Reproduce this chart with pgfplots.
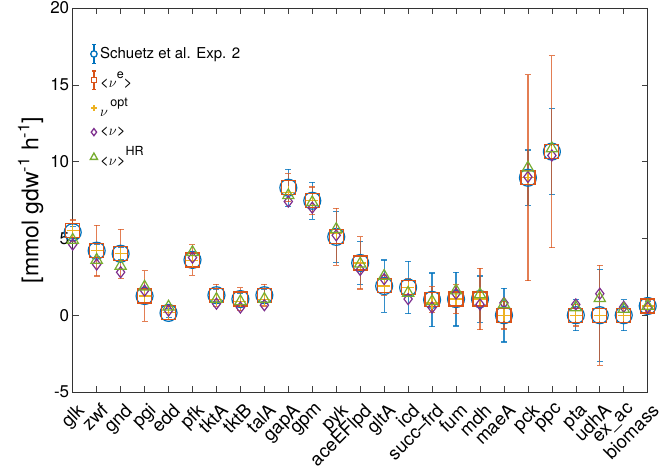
\documentclass[border=0pt]{standalone}
\usepackage{fontspec}
\setmainfont{TeX Gyre Heros}
\usepackage{pgfplots}
\pgfplotsset{compat=1.18}
\usepackage{pgfplotstable}

\definecolor{mblue}{rgb}{0,0.447,0.741}
\definecolor{morange}{rgb}{0.85,0.325,0.098}
\definecolor{myellow}{rgb}{0.929,0.694,0.125}
\definecolor{mpurple}{rgb}{0.494,0.184,0.556}
\definecolor{mgreen}{rgb}{0.466,0.674,0.188}

\newcommand{\msup}[1]{\raisebox{0.62em}{\fontsize{12.5bp}{12.5bp}\selectfont #1}}

\pgfplotstableread{
x exp experr e eerr opt mean hr
1 5.4 0.4 5.5 0.7 5.5 4.6 4.9
2 4.2 0.4 4.2 1.65 4.2 3.3 3.6
3 4.0 0.4 4.0 1.6 4.0 2.8 3.2
4 1.25 0.5 1.25 1.65 1.25 1.6 1.85
5 0.15 0.3 0.15 0.45 0.15 0.3 0.55
6 3.6 0.5 3.6 1.0 3.55 3.75 4.1
7 1.3 0.4 1.3 0.72 1.0 0.75 1.05
8 1.05 0.4 1.05 0.75 0.9 0.5 0.9
9 1.3 0.4 1.3 0.7 1.0 0.65 1.05
10 8.3 1.2 8.3 0.9 8.0 7.4 7.8
11 7.45 1.2 7.45 0.9 7.45 7.0 7.35
12 5.1 1.65 5.1 1.85 5.3 5.2 5.6
13 3.4 1.4 3.4 1.7 3.4 2.95 3.35
14 1.9 1.7 1.95 0.65 1.9 2.35 2.55
15 1.8 1.7 1.8 0.6 1.8 1.05 1.45
16 1.0 1.75 1.0 0.85 0.8 0.5 0.9
17 1.05 1.75 1.05 0.95 1.05 1.4 1.6
18 1.05 1.5 1.05 2.0 1.05 0.7 1.35
19 0.0 1.75 0.0 0.9 0.0 0.8 0.7
20 8.95 1.8 8.95 6.7 8.95 9.0 9.6
21 10.65 2.8 10.65 6.25 10.65 10.4 10.85
22 0.0 1.0 0.0 0.7 0.0 0.7 0.5
23 0.0 3.0 0.0 3.25 0.0 1.4 1.1
24 0.0 1.0 0.0 0.5 0.0 0.55 0.4
25 0.6 0.3 0.6 0.35 0.6 0.5 0.6
}\data

\begin{document}
\begin{tikzpicture}
\useasboundingbox (-72.7bp,-82bp) rectangle (590.3bp,392bp);
\begin{axis}[
  scale only axis, width=575bp, height=384bp,
  xmin=1, xmax=25, ymin=-5, ymax=20,
  xtick={1,...,25},
  xticklabels={glk,zwf,gnd,pgi,edd,pfk,tktA,tktB,talA,gapA,gpm,pyk,aceEFlpd,gltA,icd,succ--frd,fum,mdh,maeA,pck,ppc,pta,udhA,ex\_ac,biomass},
  ytick={-5,0,5,10,15,20},
  yticklabels={-5,0,5,10,15,20},
  tick align=inside, major tick length=6bp,
  tick style={black!75, line width=0.6pt},
  axis line style={black!80, line width=0.6pt},
  xticklabel style={inner sep=0pt, anchor=north east, xshift=3bp, yshift=-10bp, rotate=45, font=\fontsize{18.5bp}{18.5bp}\selectfont},
  yticklabel style={font=\fontsize{17bp}{17bp}\selectfont},
  ylabel={[mmol gdw\textsuperscript{-1} h\textsuperscript{-1}]},
  ylabel style={at={(axis description cs:-0.073,0.5)}, anchor=center, font=\fontsize{23bp}{23bp}\selectfont},
  clip=false,
  legend cell align=left,
  legend style={at={(axis description cs:0.024,0.912)}, anchor=north west, draw=none, fill=none,
    font=\fontsize{15bp}{18bp}\selectfont, row sep=5.5bp},
]
% legend images
\addlegendimage{legend image code/.code={
  \draw[mblue, line width=1.3pt] (0.22cm,-0.33cm) -- (0.22cm,0.33cm);
  \draw[mblue, line width=1.3pt] (0.16cm,-0.33cm) -- (0.28cm,-0.33cm);
  \draw[mblue, line width=1.3pt] (0.16cm,0.33cm) -- (0.28cm,0.33cm);
  \draw[mblue, line width=1.3pt, fill=white] (0.22cm,0) circle (3.2pt);
}}
\addlegendentry{Schuetz et al. Exp. 2}
\addlegendimage{legend image code/.code={
  \draw[morange, line width=1.3pt] (0.22cm,-0.33cm) -- (0.22cm,0.33cm);
  \draw[morange, line width=1.3pt] (0.16cm,-0.33cm) -- (0.28cm,-0.33cm);
  \draw[morange, line width=1.3pt] (0.16cm,0.33cm) -- (0.28cm,0.33cm);
  \draw[morange, line width=1.3pt, fill=white] (0.22cm-2.6pt,-2.6pt) rectangle (0.22cm+2.6pt,2.6pt);
}}
\addlegendentry{<$\nu$\msup{e}>}
\addlegendimage{legend image code/.code={
  \draw[myellow, line width=1.2pt] (0.22cm,-2.8pt) -- (0.22cm,2.8pt);
  \draw[myellow, line width=1.2pt] (0.22cm-2.8pt,0) -- (0.22cm+2.8pt,0);
}}
\addlegendentry{$\nu$\,\msup{opt}}
\addlegendimage{legend image code/.code={
  \draw[mpurple, line width=1.3pt] (0.22cm,-3.6pt) -- (0.22cm+2.7pt,0) -- (0.22cm,3.6pt) -- (0.22cm-2.7pt,0) -- cycle;
}}
\addlegendentry{<$\nu$>}
\addlegendimage{legend image code/.code={
  \draw[mgreen, line width=1.3pt] (0.22cm-3.6pt,-2.8pt) -- (0.22cm+3.6pt,-2.8pt) -- (0.22cm,3.6pt) -- cycle;
}}
\addlegendentry{<$\nu$>\msup{HR}}

% data
\addplot[forget plot, only marks, mark=o, mark size=8.5bp, mblue, line width=1.2pt,
  error bars/.cd, y dir=both, y explicit,
  error bar style={mblue, line width=1.2pt, opacity=0.8},
  error mark options={mblue, rotate=90, mark size=3bp, line width=1.2pt}]
  table[x=x, y=exp, y error=experr] {\data};
\addplot[forget plot, only marks, mark=square, mark size=7bp, morange, line width=1.2pt,
  error bars/.cd, y dir=both, y explicit,
  error bar style={morange, line width=1.2pt, opacity=0.75},
  error mark options={morange, rotate=90, mark size=3bp, line width=1.2pt}]
  table[x=x, y=e, y error=eerr] {\data};
\addplot[forget plot, only marks, mark=+, mark size=6bp, myellow, line width=1.2pt]
  table[x=x, y=opt] {\data};
\addplot[forget plot, only marks, mark=diamond, mark size=5.5bp, mpurple, line width=1.2pt]
  table[x=x, y=mean] {\data};
\addplot[forget plot, only marks, mark=triangle, mark size=6.5bp, mgreen, line width=1.2pt]
  table[x=x, y=hr] {\data};
\end{axis}
\end{tikzpicture}
\end{document}
